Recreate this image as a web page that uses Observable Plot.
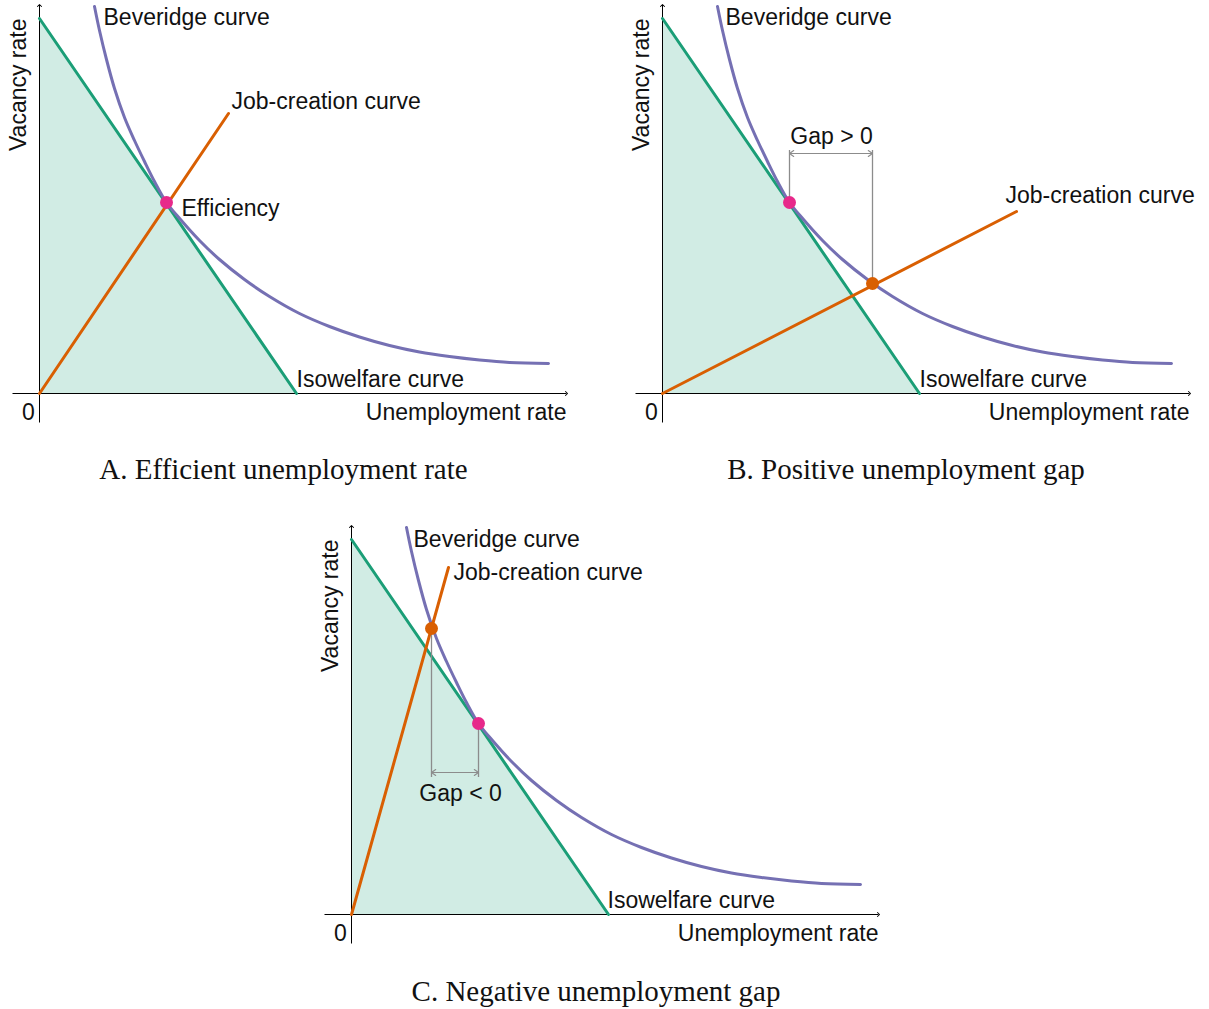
<!DOCTYPE html>
<html><head><meta charset="utf-8">
<script src="https://cdn.jsdelivr.net/npm/d3@7"></script>
<script src="https://cdn.jsdelivr.net/npm/@observablehq/plot@0.6"></script>
<style>
body{margin:0;background:#fff;}
#wrap{position:relative;width:1209px;height:1009px;overflow:hidden;font-family:"Liberation Sans",Arial,sans-serif;}
.panel{position:absolute;}
.cap{position:absolute;font-family:"Liberation Serif","Times New Roman",serif;font-size:29px;line-height:29px;white-space:nowrap;transform:translateX(-50%);color:#111;}
</style></head><body><div id="wrap"></div>
<script>
// Beveridge curve (same in every panel): unemployment u, vacancy v
const bevU = [0.55,0.60,0.67,0.75,0.85,0.95,1.05,1.15,1.27,1.41,1.60,1.80,2.05,2.30,2.60,2.90,3.20,3.50,3.80,4.10,4.40,4.70,5.09];
const bevV = [3.87,3.63,3.34,3.05,2.76,2.53,2.32,2.12,1.91,1.74,1.53,1.34,1.14,0.97,0.80,0.67,0.565,0.48,0.415,0.37,0.335,0.31,0.30];
// Isowelfare curve
const isoU = [0, 2.57];
const isoV = [3.75, 0];
// Job-creation curves per panel
const jobAU = [0, 1.89], jobAV = [0, 2.80];
const jobBU = [0, 3.54], jobBV = [0, 1.82];
const jobCU = [0, 0.97], jobCV = [0, 3.47];
// Efficient point and equilibria
const effU = 1.27, effV = 1.91;
const eqB = {u: 2.10, v: 1.10};
const eqC = {u: 0.80, v: 2.86};
// Gap bracket levels
const gapB = {top: 2.43, arrow: 2.40, label: "Gap > 0", labelU: 1.69, labelV: 2.57};
const gapC = {bottom: 1.37, arrow: 1.42, label: "Gap < 0", labelU: 1.09, labelV: 1.21};
// Axis extents
const axisX = [-0.27, 5.27];
const axisY = [-0.29, 3.88];
// Labels
const labelsA = [
  {u: 0.64, v: 3.76, t: "Beveridge curve"},
  {u: 1.92, v: 2.92, t: "Job-creation curve"},
  {u: 1.42, v: 1.85, t: "Efficiency"},
  {u: 2.57, v: 0.14, t: "Isowelfare curve"}
];
const labelsB = [
  {u: 0.63, v: 3.76, t: "Beveridge curve"},
  {u: 3.43, v: 1.98, t: "Job-creation curve"},
  {u: 2.57, v: 0.14, t: "Isowelfare curve"}
];
const labelsC = [
  {u: 0.62, v: 3.75, t: "Beveridge curve"},
  {u: 1.02, v: 3.42, t: "Job-creation curve"},
  {u: 2.56, v: 0.14, t: "Isowelfare curve"}
];
const captions = ["A. Efficient unemployment rate", "B. Positive unemployment gap", "C. Negative unemployment gap"];

const C = {bev: "#7570b3", iso: "#1b9e77", job: "#d95f02", eff: "#e7298a", gap: "#8c8c8c"};
const FS = 23;
const bev = bevU.map((u, i) => ({u, v: bevV[i]}));
const iso = isoU.map((u, i) => ({u, v: isoV[i]}));
const pts = (U, V) => U.map((u, i) => ({u, v: V[i]}));

function panel(job, labels, extra) {
  return Plot.plot({
    width: 586, height: 430, margin: 0,
    x: {domain: [-0.39, 5.47], axis: null},
    y: {domain: [-0.37, 3.93], axis: null},
    style: {overflow: "visible", background: "transparent", fontFamily: "Liberation Sans, Arial, sans-serif"},
    marks: [
      Plot.areaY(iso, {x: "u", y: "v", fill: C.iso, fillOpacity: 0.2}),
      Plot.link([{x1: axisX[0], x2: axisX[1], y1: 0, y2: 0}], {x1: "x1", x2: "x2", y1: "y1", y2: "y2", stroke: "#000", strokeWidth: 1, markerEnd: "arrow"}),
      Plot.link([{x1: 0, x2: 0, y1: axisY[0], y2: axisY[1]}], {x1: "x1", x2: "x2", y1: "y1", y2: "y2", stroke: "#000", strokeWidth: 1, markerEnd: "arrow"}),
      Plot.line(iso, {x: "u", y: "v", stroke: C.iso, strokeWidth: 3}),
      Plot.line(bev, {x: "u", y: "v", stroke: C.bev, strokeWidth: 3, curve: "catmull-rom"}),
      Plot.line(job, {x: "u", y: "v", stroke: C.job, strokeWidth: 3}),
      ...extra,
      Plot.text(labels, {x: "u", y: "v", text: "t", textAnchor: "start", fontSize: FS, fill: "#111"}),
      Plot.text(["Unemployment rate"], {x: axisX[1], y: -0.19, text: d => d, textAnchor: "end", fontSize: FS, fill: "#111"}),
      Plot.text(["0"], {x: -0.11, y: -0.19, text: d => d, textAnchor: "middle", fontSize: FS, fill: "#111"}),
      Plot.text(["Vacancy rate"], {x: -0.21, y: 3.75, text: d => d, rotate: -90, textAnchor: "end", fontSize: FS, fill: "#111"})
    ]
  });
}

function gapArrows(a, b, y) {
  const m = (a + b) / 2;
  return Plot.arrow([{x1: m, x2: a}, {x1: m, x2: b}], {x1: "x1", x2: "x2", y1: () => y, y2: () => y, stroke: C.gap, strokeWidth: 1.1, headLength: 7, headAngle: 70});
}

const gapMarksB = [
  Plot.ruleX([{u: effU, v1: effV, v2: gapB.top}, {u: eqB.u, v1: eqB.v, v2: gapB.top}], {x: "u", y1: "v1", y2: "v2", stroke: C.gap, strokeWidth: 1.3}),
  gapArrows(effU, eqB.u, gapB.arrow),
  Plot.text([gapB.label], {x: gapB.labelU, y: gapB.labelV, text: d => d, textAnchor: "middle", fontSize: FS, fill: "#111"}),
  Plot.dot([{u: effU, v: effV}], {x: "u", y: "v", r: 6.5, fill: C.eff}),
  Plot.dot([eqB], {x: "u", y: "v", r: 6.5, fill: C.job})
];
const gapMarksC = [
  Plot.ruleX([{u: effU, v1: effV, v2: gapC.bottom}, {u: eqC.u, v1: eqC.v, v2: gapC.bottom}], {x: "u", y1: "v1", y2: "v2", stroke: C.gap, strokeWidth: 1.3}),
  gapArrows(eqC.u, effU, gapC.arrow),
  Plot.text([gapC.label], {x: gapC.labelU, y: gapC.labelV, text: d => d, textAnchor: "middle", fontSize: FS, fill: "#111"}),
  Plot.dot([{u: effU, v: effV}], {x: "u", y: "v", r: 6.5, fill: C.eff}),
  Plot.dot([eqC], {x: "u", y: "v", r: 6.5, fill: C.job})
];
const marksA = [Plot.dot([{u: effU, v: effV}], {x: "u", y: "v", r: 6.5, fill: C.eff})];

const wrap = document.getElementById("wrap");
function place(el, left, top) { el.classList.add("panel"); el.style.left = left + "px"; el.style.top = top + "px"; wrap.appendChild(el); }
place(panel(pts(jobAU, jobAV), labelsA, marksA), 0, 0);
place(panel(pts(jobBU, jobBV), labelsB, gapMarksB), 623, 0);
place(panel(pts(jobCU, jobCV), labelsC, gapMarksC), 312, 521);

const capPos = [[283.5, 454.5], [906, 454.5], [596, 976.5]];
captions.forEach((t, i) => {
  const d = document.createElement("div");
  d.className = "cap"; d.textContent = t;
  d.style.left = capPos[i][0] + "px"; d.style.top = capPos[i][1] + "px";
  wrap.appendChild(d);
});
</script></body></html>
